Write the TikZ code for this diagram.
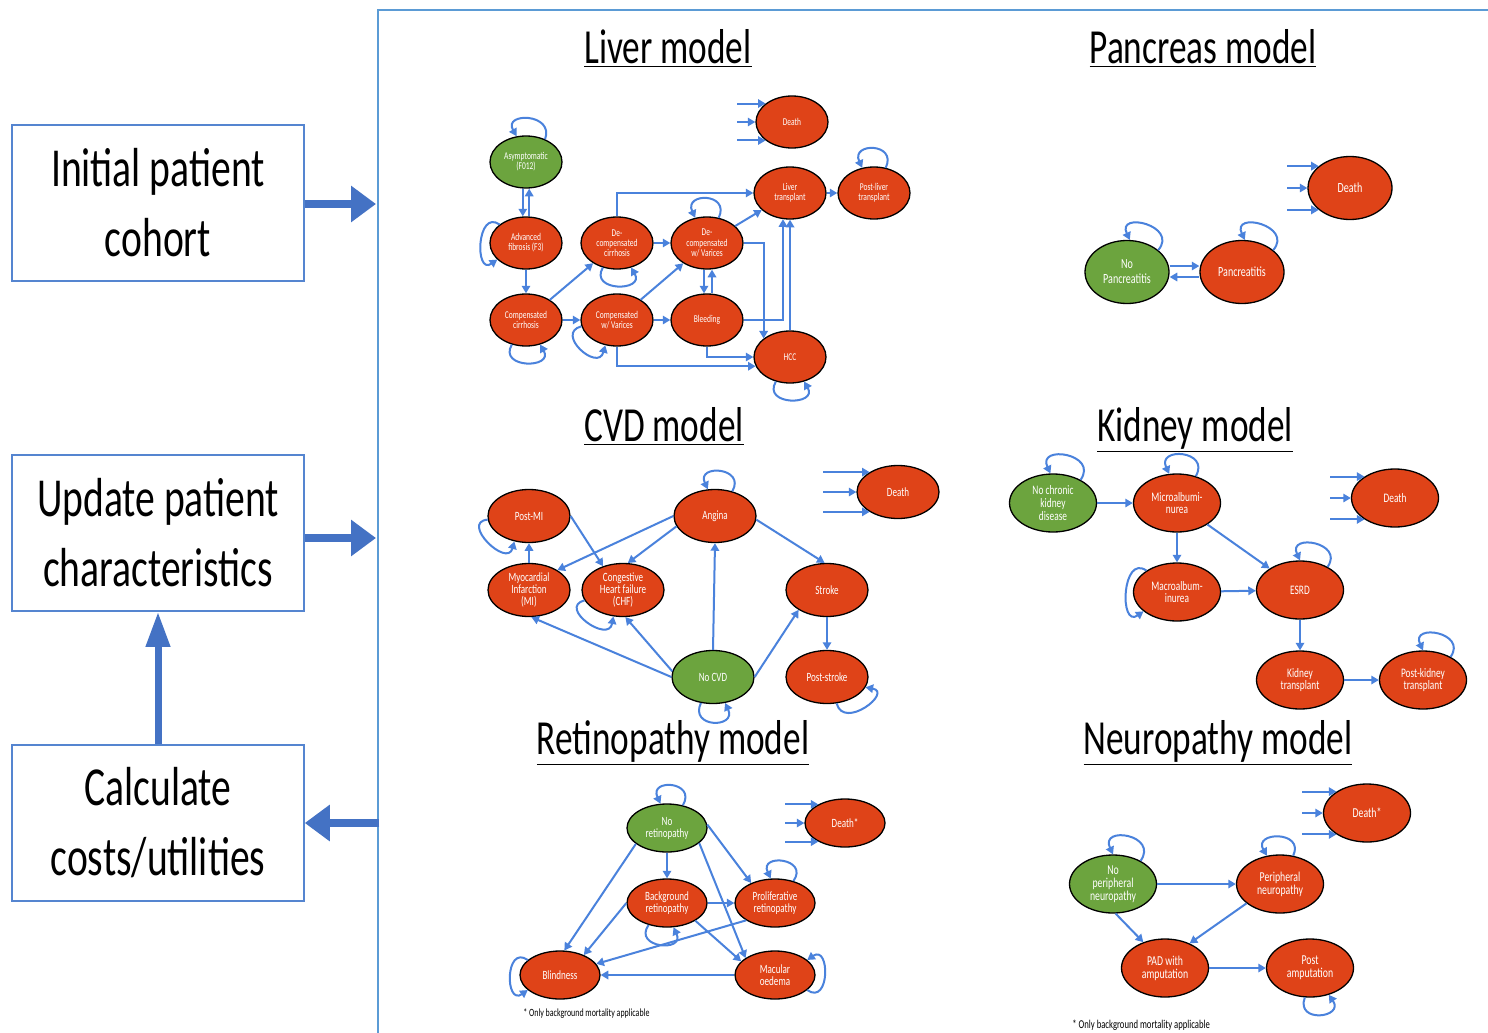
\documentclass[tikz,border=0pt]{standalone}
\usepackage{fontspec}
\setmainfont{Carlito}[FakeStretch=0.72]
\usetikzlibrary{shapes.geometric,arrows.meta,calc}
\definecolor{redc}{HTML}{DF4318}
\definecolor{greenc}{HTML}{6CA43E}
\definecolor{bluec}{HTML}{4A82DC}
\definecolor{boxc}{HTML}{5585D0}
\definecolor{framec}{HTML}{5B9BD5}
\definecolor{bigc}{HTML}{4472C4}
\newcommand\sloop[6]{\draw[arr] (#1.#2) .. controls +(#4:#6) and +(#5:#6) .. (#1.#3);}
\newcommand\deatharrows[2]{%
  \draw[arr] (#2 |- #1.145) -- (#1.145);
  \draw[arr] (#2 |- #1.west) -- (#1.west);
  \draw[arr] (#2 |- #1.215) -- (#1.215);}
\tikzset{
  stn/.style={ellipse, draw=black, line width=0.65pt, fill=redc, text=white, inner sep=0pt, align=center},
  gstn/.style={stn, fill=greenc},
  lvn/.style={minimum width=36pt, minimum height=26pt, font=\fontsize{5.2}{5.1}\selectfont},
  pcn/.style={minimum width=42pt, minimum height=31.5pt, font=\fontsize{7}{7.5}\selectfont},
  cvn/.style={minimum width=41pt, minimum height=26.5pt, font=\fontsize{6.3}{6}\selectfont},
  kdn/.style={minimum width=43.5pt, minimum height=29pt, font=\fontsize{6.5}{6.3}\selectfont},
  rtn/.style={minimum width=40pt, minimum height=24pt, font=\fontsize{6.3}{6}\selectfont},
  npn/.style={minimum width=43.5pt, minimum height=29pt, font=\fontsize{6.8}{6.5}\selectfont},
  arr/.style={draw=bluec, line width=1pt, -{Triangle[length=3.8pt,width=4.2pt]}},
  titlen/.style={inner sep=0pt, anchor=base, font=\fontsize{24.5}{28}\selectfont},
  boxn/.style={draw=boxc, line width=0.8pt, minimum width=146pt, minimum height=78pt, inner sep=0pt, align=center, font=\fontsize{27.5}{35}\selectfont},
  bigarr/.style={draw=bigc, line width=4pt, -{Triangle[length=12.5pt,width=17.5pt]}},
  bigvarr/.style={draw=bigc, line width=3.5pt, -{Triangle[length=17.5pt,width=11.5pt]}},
  foot/.style={inner sep=0pt, anchor=west},
}
\begin{document}
\begin{tikzpicture}[x=0.5pt,y=-0.5pt]
\useasboundingbox (0,0) rectangle (1488,1033);
\fill[white] (0,0) rectangle (1488,1033);
% frame
\draw[framec, line width=1.1pt] (378,1033) -- (378,10) -- (1488,10);
% left boxes
\node[boxn] (b1) at (158,203) {Initial patient\\cohort};
\node[boxn] (b2) at (158,533) {Update patient\\characteristics};
\node[boxn] (b3) at (158,823) {Calculate\\costs/utilities};
\coordinate (f1) at (376,204);
\coordinate (f2) at (376,538);
\coordinate (f3) at (379,823);
\draw[bigarr] (b1.east |- f1) -- (f1);
\draw[bigarr] (b2.east |- f2) -- (f2);
\draw[bigarr] (f3) -- (b3.east);
\draw[bigvarr] (b3.north) -- (b2.south);
% titles
\node[titlen] (t1) at (668,63) {\underline{Liver model}};
\node[titlen] (t2) at (1203,63) {\underline{Pancreas model}};
\node[titlen] (t3) at (664,441) {\underline{CVD model}};
\node[titlen] (t4) at (1195,441) {\underline{Kidney model}};
\node[titlen] (t5) at (673,754) {\underline{Retinopathy model}};
\node[titlen] (t6) at (1218,754) {\underline{Neuropathy model}};

% ---------------- Liver model
\node[gstn,lvn] (asym) at (526,162) {Asymptomatic\\(F012)};
\node[stn,lvn] (ld) at (792,122) {Death};
\node[stn,lvn] (lt) at (790,193) {Liver\\transplant};
\node[stn,lvn] (plt) at (874,193) {Post-liver\\transplant};
\node[stn,lvn] (adv) at (526,243) {Advanced\\fibrosis (F3)};
\node[stn,lvn] (dc) at (617,243) {De-\\compensated\\cirrhosis};
\node[stn,lvn] (dv) at (707,243) {De-\\compensated\\w/ Varices};
\node[stn,lvn] (cc) at (526,320) {Compensated\\cirrhosis};
\node[stn,lvn] (cwv) at (617,320) {Compensated\\w/ Varices};
\node[stn,lvn] (bl) at (707,320) {Bleeding};
\node[stn,lvn] (hcc) at (790,357) {HCC};
\draw[arr] ([xshift=-1.6pt]asym.south) -- ([xshift=-1.6pt]adv.north);
\draw[arr] ([xshift=1.6pt]adv.north) -- ([xshift=1.6pt]asym.south);
\draw[arr] (adv) -- (cc);
\draw[arr] (cc) -- (cwv);
\draw[arr] (cc) -- (dc);
\draw[arr] (dc) -- (dv);
\draw[arr] (cwv) -- (bl);
\draw[arr] (cwv) -- (dv);
\draw[arr] (dv) -- (lt);
\draw[arr] (lt) -- (plt);
\draw[arr] (dc.north) |- (lt.west);
\draw[arr] (cwv.south) |- (hcc.195);
\draw[arr] (bl.south) |- (hcc.west);
\draw[arr] (dv.east) -| (hcc.145);
\draw[arr] (bl.east) -| (lt.255);
\draw[arr] (hcc.north) -- (lt.south);
\draw[arr] ([xshift=-1.5pt]dv.south) -- ([xshift=-1.5pt]bl.north);
\draw[arr] ([xshift=2.5pt]bl.north) -- ([xshift=2.5pt]dv.south);
\coordinate (lds) at (737,122);
\deatharrows{ld}{lds}
\sloop{asym}{50}{110}{70}{120}{14pt}
\sloop{adv}{145}{210}{145}{215}{14pt}
\sloop{cc}{240}{300}{240}{300}{14pt}
\sloop{dc}{240}{300}{240}{300}{14pt}
\sloop{cwv}{190}{245}{195}{255}{14pt}
\sloop{dv}{65}{115}{65}{115}{14pt}
\sloop{hcc}{240}{300}{240}{300}{14pt}
\sloop{plt}{65}{115}{65}{115}{14pt}

% ---------------- Pancreas model
\node[stn,pcn] (pd) at (1350,188) {Death};
\node[gstn,pcn] (np) at (1127,272) {No\\Pancreatitis};
\node[stn,pcn] (pa) at (1242,272) {Pancreatitis};
\draw[arr] ([yshift=3pt]np.east) -- ([yshift=3pt]pa.west);
\draw[arr] ([yshift=-2.5pt]pa.west) -- ([yshift=-2.5pt]np.east);
\sloop{np}{35}{85}{50}{115}{16pt}
\sloop{pa}{35}{85}{50}{115}{16pt}
\coordinate (pds) at (1287,188);
\deatharrows{pd}{pds}

% ---------------- CVD model
\node[stn,cvn] (pmi) at (529,516) {Post-MI};
\node[stn,cvn] (ang) at (715,516) {Angina};
\node[stn,cvn] (cd) at (898,492) {Death};
\node[stn,cvn] (mi) at (529,590) {Myocardial\\Infarction\\(MI)};
\node[stn,cvn] (chf) at (623,590) {Congestive\\Heart failure\\(CHF)};
\node[stn,cvn] (str) at (827,590) {Stroke};
\node[gstn,cvn] (nocvd) at (713,677) {No CVD};
\node[stn,cvn] (pstr) at (827,677) {Post-stroke};
\draw[arr] (mi) -- (pmi);
\draw[arr] (pmi.east) -- (chf.130);
\draw[arr] (ang.west) -- (mi.35);
\draw[arr] (ang.195) -- (chf.80);
\draw[arr] (ang.-5) -- (str.95);
\draw[arr] (nocvd.north) -- (ang.south);
\draw[arr] (nocvd.west) -- (mi.-85);
\draw[arr] (nocvd.172) -- (chf.-85);
\draw[arr] (nocvd.east) -- (str.215);
\draw[arr] (str) -- (pstr);
\sloop{pmi}{185}{240}{185}{255}{14pt}
\sloop{ang}{55}{105}{60}{115}{14pt}
\sloop{chf}{195}{250}{195}{260}{14pt}
\sloop{nocvd}{245}{295}{245}{295}{14pt}
\sloop{pstr}{290}{345}{285}{350}{14pt}
\coordinate (cds) at (823,492);
\deatharrows{cd}{cds}

% ---------------- Kidney model
\node[gstn,kdn] (nck) at (1053,503) {No chronic\\kidney\\disease};
\node[stn,kdn] (mic) at (1177,503) {Microalbumi-\\nurea};
\node[stn,kdn] (kd) at (1395,498) {Death};
\node[stn,kdn] (mac) at (1177,592) {Macroalbum-\\inurea};
\node[stn,kdn] (esrd) at (1300,590) {ESRD};
\node[stn,kdn] (kt) at (1300,680) {Kidney\\transplant};
\node[stn,kdn] (pkt) at (1423,680) {Post-kidney\\transplant};
\draw[arr] (nck) -- (mic);
\draw[arr] (mic) -- (mac);
\draw[arr] (mic) -- (esrd);
\draw[arr] (mac) -- (esrd);
\draw[arr] (esrd) -- (kt);
\draw[arr] (kt) -- (pkt);
\sloop{nck}{40}{95}{55}{115}{16pt}
\sloop{mic}{55}{105}{60}{115}{15pt}
\sloop{mac}{145}{210}{145}{215}{15pt}
\sloop{esrd}{40}{90}{55}{115}{15pt}
\sloop{pkt}{40}{90}{55}{115}{15pt}
\coordinate (kds) at (1330,498);
\deatharrows{kd}{kds}

% ---------------- Retinopathy model
\node[gstn,rtn] (nr) at (667,828) {No\\retinopathy};
\node[stn,rtn] (rd) at (845,823) {Death*};
\node[stn,rtn] (bgr) at (667,903) {Background\\retinopathy};
\node[stn,rtn] (pr) at (775,903) {Proliferative\\retinopathy};
\node[stn,rtn] (bli) at (560,975) {Blindness};
\node[stn,rtn] (mo) at (775,975) {Macular\\oedema};
\draw[arr] (nr) -- (bgr);
\draw[arr] (nr.5) -- (pr.140);
\draw[arr] (nr.-25) -- (mo.150);
\draw[arr] (nr.207) -- (bli.80);
\draw[arr] (bgr) -- (pr);
\draw[arr] (bgr.west) -- (bli.40);
\draw[arr] (bgr.-32) -- (mo.158);
\draw[arr] (pr.211) -- (bli.17);
\draw[arr] (mo) -- (bli);
\sloop{nr}{55}{105}{60}{115}{14pt}
\sloop{bgr}{230}{285}{235}{295}{14pt}
\sloop{pr}{50}{100}{55}{115}{14pt}
\sloop{mo}{335}{25}{325}{35}{14pt}
\sloop{bli}{155}{205}{145}{215}{14pt}
\coordinate (rds) at (785,823);
\deatharrows{rd}{rds}
\node[foot, font=\fontsize{5.5}{6}\selectfont] (fn1) at (523,1014) {* Only background mortality applicable};

% ---------------- Neuropathy model
\node[stn,npn] (nd) at (1367,813) {Death*};
\node[gstn,npn] (npa) at (1113,884) {No\\peripheral\\neuropathy};
\node[stn,npn] (pn) at (1280,884) {Peripheral\\neuropathy};
\node[stn,npn] (pad) at (1165,968) {PAD with\\amputation};
\node[stn,npn] (pam) at (1310,968) {Post\\amputation};
\draw[arr] (npa) -- (pn);
\draw[arr] (npa.-85) -- (pad.130);
\draw[arr] (pn.210) -- (pad.45);
\draw[arr] (pad) -- (pam);
\sloop{npa}{40}{90}{55}{115}{16pt}
\sloop{pn}{65}{115}{65}{120}{14pt}
\sloop{pam}{260}{305}{250}{305}{14pt}
\coordinate (nds) at (1302,813);
\deatharrows{nd}{nds}
\node[foot, font=\fontsize{6}{6}\selectfont] (fn2) at (1072,1025) {* Only background mortality applicable};
\end{tikzpicture}
\end{document}
